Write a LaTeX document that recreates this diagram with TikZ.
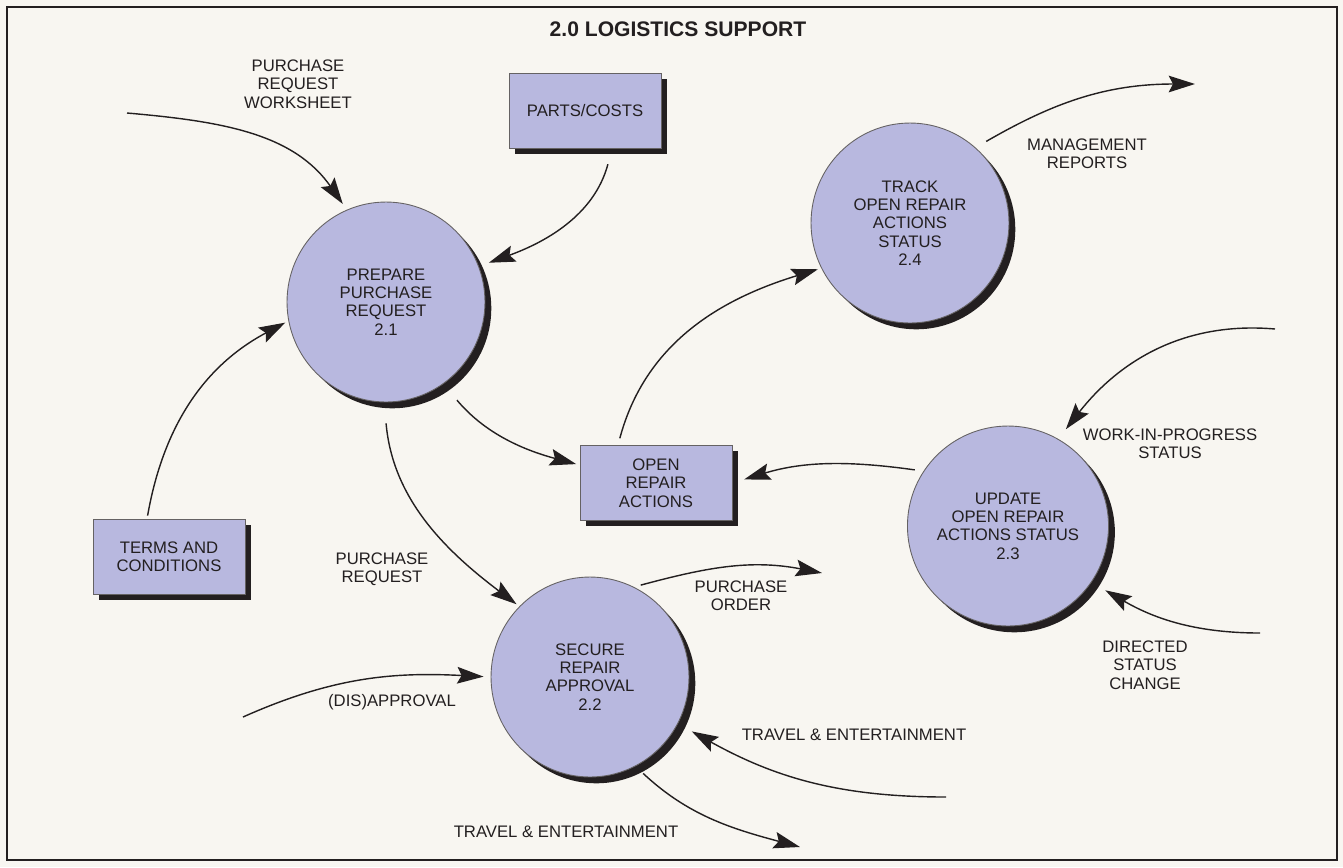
\documentclass[tikz,border=0pt]{standalone}
\usepackage{fontspec}
\setmainfont{Liberation Sans}
\usepackage{tikz}
\usetikzlibrary{arrows.meta,shapes.geometric,shadows}
\definecolor{paper}{HTML}{F8F6F1}
\definecolor{lilac}{HTML}{B8B8DF}
\definecolor{ink}{HTML}{231F20}

\begin{document}
\begin{tikzpicture}[x=0.02cm,y=0.02cm,
  proc/.style={ellipse,draw=ink!70,line width=0.5pt,fill=lilac,inner sep=0pt,
               minimum width=3.96cm,minimum height=4cm,align=center,text=ink,
               font=\fontsize{9.5}{10.4}\selectfont,
               general shadow={fill=ink,shadow xshift=3.6pt,shadow yshift=-3.6pt}},
  store/.style={rectangle,draw=ink!70,line width=0.5pt,fill=lilac,
                minimum width=3.04cm,minimum height=1.5cm,align=center,text=ink,
                font=\fontsize{9.5}{10.4}\selectfont,
                general shadow={fill=ink,shadow xshift=3.4pt,shadow yshift=-3.4pt}},
  lbl/.style={align=center,text=ink,font=\fontsize{9.5}{10.4}\selectfont},
  flow/.style={draw=ink,line width=0.8pt,-{Stealth[length=15pt,width=9.5pt,inset=2.5pt]}}
]
  % page and frame
  \fill[paper] (0,0) rectangle (1343,-867);
  \draw[ink,line width=1.4pt] (7,-7) rectangle (1337,-860);
  \node[lbl,font=\bfseries\fontsize{12}{14}\selectfont] (title) at (678,-29) {2.0 LOGISTICS SUPPORT};

  % processes and stores
  \node[proc] (prep) at (386,-302) {PREPARE\\PURCHASE\\REQUEST\\2.1};
  \node[proc] (track) at (910,-223) {TRACK\\OPEN REPAIR\\ACTIONS\\STATUS\\2.4};
  \node[proc] (update) at (1008,-526) {UPDATE\\OPEN REPAIR\\ACTIONS STATUS\\2.3};
  \node[proc] (secure) at (590,-677) {SECURE\\REPAIR\\APPROVAL\\2.2};
  \node[store] (parts) at (585,-111) {PARTS/COSTS};
  \node[store] (open) at (656,-483) {OPEN\\REPAIR\\ACTIONS};
  \node[store] (terms) at (169,-557) {TERMS AND\\CONDITIONS};

  % free ends of the flows
  \coordinate (wsIn) at (127,-113);
  \coordinate (mgmtOut) at (1195,-84);
  \coordinate (wipIn) at (1275,-329);
  \coordinate (dscIn) at (1260,-633);
  \coordinate (poOut) at (822,-573);
  \coordinate (disIn) at (243,-717);
  \coordinate (teIn) at (946,-797);
  \coordinate (teOut) at (800,-847);

  % flows
  \draw[flow,shorten >=4pt] (wsIn) to[out=-5,in=125] (prep.113);
  \draw[flow,shorten <=9pt,shorten >=6pt] ([shift={(27,0)}]parts.south) to[out=-105,in=20] (prep.21);
  \draw[flow,shorten <=2pt,shorten >=2pt] ([shift={(-22,0)}]terms.north) to[out=80,in=208] (prep.191);
  \draw[flow,shorten <=12pt,shorten >=2pt] (prep.-55) to[out=-50,in=165] ([shift={(0,18)}]open.west);
  \draw[flow,shorten <=12pt,shorten >=2pt] (prep.-91) to[out=-85,in=143] (secure.135);
  \draw[flow,shorten <=4pt,shorten >=2pt] ([shift={(-38,0)}]open.north) to[out=75,in=197] (track.207);
  \draw[flow,shorten <=7pt] (track.49) to[out=30,in=180] (mgmtOut);
  \draw[flow,shorten >=7pt] (wipIn) to[out=175,in=52] (update.60);
  \draw[flow,shorten <=5pt,shorten >=7pt] (update.147) to[out=172,in=17] (open.east);
  \draw[flow,shorten >=9pt] (dscIn) to[out=180,in=-30] (update.-34);
  \draw[flow,shorten <=4pt] (secure.64) to[out=15,in=169] (poOut);
  \draw[flow,shorten >=4pt] (disIn) to[out=24,in=177] (secure.180);
  \draw[flow,shorten >=9pt] (teIn) to[out=180,in=-29] (secure.-28);
  \draw[flow,shorten <=6pt] (secure.-63) to[out=-43,in=165] (teOut);

  % flow labels
  \node[lbl] (wsLbl) at (298,-84) {PURCHASE\\REQUEST\\WORKSHEET};
  \node[lbl] (mgmtLbl) at (1087,-154) {MANAGEMENT\\REPORTS};
  \node[lbl] (wipLbl) at (1170,-444) {WORK-IN-PROGRESS\\STATUS};
  \node[lbl] (dscLbl) at (1145,-665) {DIRECTED\\STATUS\\CHANGE};
  \node[lbl] (poLbl) at (741,-596) {PURCHASE\\ORDER};
  \node[lbl] (prLbl) at (382,-569) {PURCHASE\\REQUEST};
  \node[lbl] (disLbl) at (392,-702) {(DIS)APPROVAL};
  \node[lbl] (teInLbl) at (854,-735) {TRAVEL \& ENTERTAINMENT};
  \node[lbl] (teOutLbl) at (566,-832) {TRAVEL \& ENTERTAINMENT};
\end{tikzpicture}
\end{document}
